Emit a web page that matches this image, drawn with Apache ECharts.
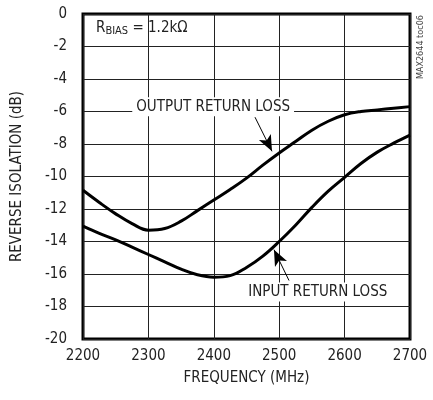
<!DOCTYPE html>
<html>
<head>
<meta charset="utf-8">
<script src="https://cdn.jsdelivr.net/npm/echarts@6/dist/echarts.min.js"></script>
<style>
  html, body { margin: 0; padding: 0; background: #fff; }
  #main { width: 433px; height: 400px; }
</style>
</head>
<body>
<div id="main"></div>
<script>
// frequency points (MHz)
var freq = [2200, 2225, 2250, 2275, 2300, 2325, 2350, 2375, 2400, 2425, 2450,
            2475, 2500, 2525, 2550, 2575, 2600, 2625, 2650, 2675, 2700];
// output return loss (dB)
var outputLoss = [-10.85, -11.6, -12.3, -12.9, -13.3, -13.2, -12.75, -12.1, -11.45, -10.8, -10.1,
                  -9.3, -8.55, -7.85, -7.15, -6.6, -6.2, -6.0, -5.9, -5.8, -5.7];
// input return loss (dB)
var inputLoss = [-13.05, -13.5, -13.9, -14.35, -14.8, -15.25, -15.7, -16.05, -16.2, -16.1, -15.6,
                 -14.9, -14.0, -13.0, -11.9, -10.9, -10.05, -9.2, -8.5, -7.95, -7.45];

var font = "'Liberation Sans Narrow', 'DejaVu Sans Condensed', sans-serif";

function pairs(xs, ys) {
  return xs.map(function (x, i) { return [x, ys[i]]; });
}

var chart = echarts.init(document.getElementById('main'));
chart.setOption({
  animation: false,
  grid: {
    left: 83, right: 23, top: 14, bottom: 61,
    show: true, borderColor: '#000', borderWidth: 3
  },
  xAxis: {
    type: 'value', min: 2200, max: 2700, interval: 100,
    name: 'FREQUENCY (MHz)', nameLocation: 'middle', nameGap: 32,
    nameTextStyle: { fontFamily: font, fontSize: 15, color: '#222' },
    axisLine: { show: false }, axisTick: { show: false },
    axisLabel: { fontFamily: font, fontSize: 15, color: '#222', margin: 10,
                 formatter: function (v) { return String(v); } },
    splitLine: { lineStyle: { color: '#222', width: 1 } }
  },
  yAxis: {
    type: 'value', min: -20, max: 0, interval: 2,
    name: 'REVERSE ISOLATION (dB)', nameLocation: 'middle', nameGap: 58,
    nameTextStyle: { fontFamily: font, fontSize: 15, color: '#222' },
    axisLine: { show: false }, axisTick: { show: false },
    axisLabel: { fontFamily: font, fontSize: 15, color: '#222', margin: 16 },
    splitLine: { lineStyle: { color: '#222', width: 1 } }
  },
  series: [
    {
      name: 'OUTPUT RETURN LOSS', type: 'line', smooth: 0.4, symbol: 'none',
      lineStyle: { color: '#000', width: 3 },
      data: pairs(freq, outputLoss),
      markLine: {
        silent: true, symbol: ['none', 'arrow'], symbolSize: [10, 16],
        label: { show: false },
        lineStyle: { color: '#000', width: 1, type: 'solid' },
        data: [[{ coord: [2463, -6.35] }, { coord: [2489, -8.45] }]]
      }
    },
    {
      name: 'INPUT RETURN LOSS', type: 'line', smooth: 0.4, symbol: 'none',
      lineStyle: { color: '#000', width: 3 },
      data: pairs(freq, inputLoss),
      markLine: {
        silent: true, symbol: ['none', 'arrow'], symbolSize: [10, 16],
        label: { show: false },
        lineStyle: { color: '#000', width: 1, type: 'solid' },
        data: [[{ coord: [2515, -16.4] }, { coord: [2492, -14.5] }]]
      }
    }
  ]
});

// text annotations placed from data coordinates
var pOut = chart.convertToPixel({ gridIndex: 0 }, [2399, -5.7]);
var pIn = chart.convertToPixel({ gridIndex: 0 }, [2559, -17.1]);
chart.setOption({
  graphic: [
    {
      type: 'text', x: pOut[0], y: pOut[1],
      style: {
        text: 'OUTPUT RETURN LOSS', fontFamily: font, fontSize: 15, fill: '#222',
        align: 'center', verticalAlign: 'middle',
        backgroundColor: '#fff', padding: [2, 4]
      }
    },
    {
      type: 'text', x: pIn[0], y: pIn[1],
      style: {
        text: 'INPUT RETURN LOSS', fontFamily: font, fontSize: 15, fill: '#222',
        align: 'center', verticalAlign: 'middle',
        backgroundColor: '#fff', padding: [2, 4]
      }
    },
    {
      type: 'text', left: 96, top: 21,
      style: {
        text: '{r|R}{s|BIAS}{r| = 1.2kΩ}', fontFamily: font, fill: '#222',
        rich: {
          r: { fontFamily: font, fontSize: 15, fill: '#222' },
          s: { fontFamily: font, fontSize: 11, fill: '#222', padding: [6, 0, 0, 0] }
        }
      }
    },
    {
      type: 'text', x: 421, y: 15, rotation: Math.PI / 2,
      style: {
        text: 'MAX2644 toc06', fontFamily: font, fontSize: 9, fill: '#444',
        align: 'right', verticalAlign: 'middle'
      }
    }
  ]
});
</script>
</body>
</html>
